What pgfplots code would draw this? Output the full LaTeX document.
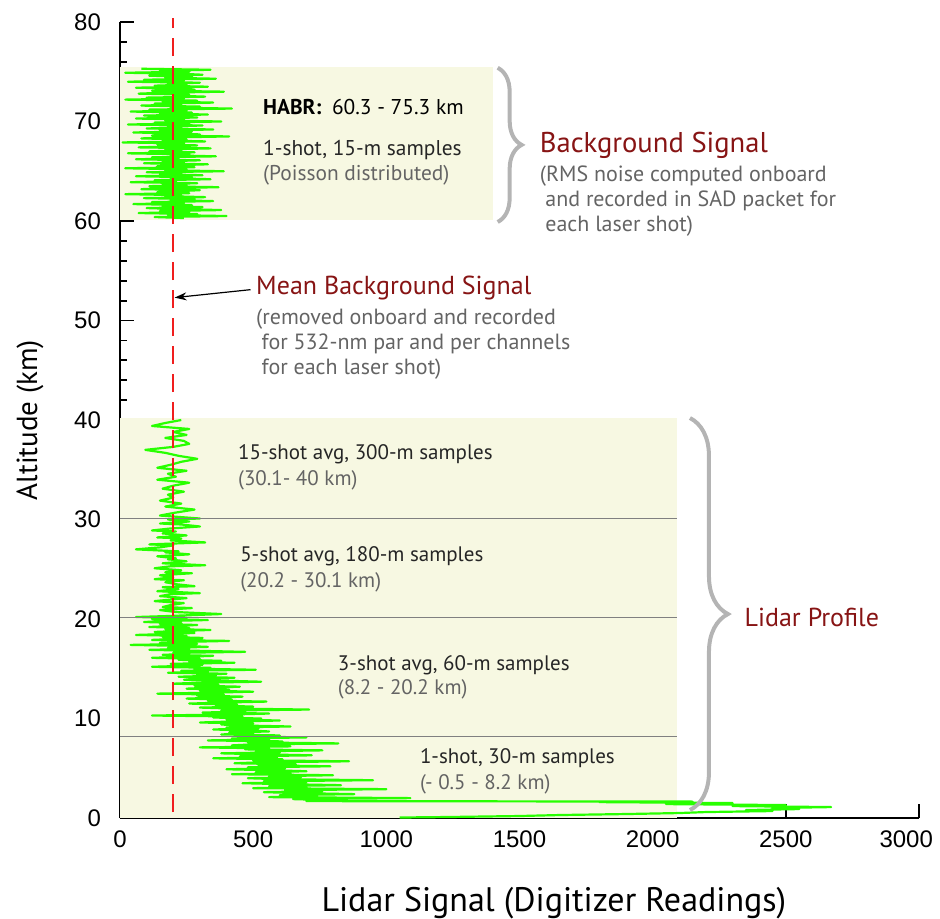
\documentclass[border=0pt]{standalone}
\usepackage{fontspec}
\usepackage{pgfplots}
\usepackage{pgfplotstable}
\pgfplotsset{compat=1.18}
\usetikzlibrary{decorations.pathreplacing,arrows.meta}
\setmainfont{PT Sans}
\newfontfamily\tickfont{Liberation Sans}
\newfontfamily\annfont{PT Sans}
\definecolor{lidargreen}{RGB}{40,255,0}
\definecolor{boxfill}{RGB}{247,248,226}
\definecolor{darkred}{RGB}{135,20,20}
\definecolor{txtgray}{RGB}{100,100,100}
\definecolor{bracegray}{RGB}{180,180,180}
\definecolor{meanred}{RGB}{240,30,30}

\pgfplotstableread{
x y
80 75.3
340 75.2
150 75.1
260 75.0
20 74.9
230 74.8
310 74.7
110 74.6
270 74.5
170 74.4
360 74.3
90 74.2
240 74.1
30 74.0
300 73.9
180 73.8
250 73.7
130 73.6
330 73.5
60 73.4
220 73.3
280 73.2
120 73.1
390 73.0
170 72.9
70 72.8
260 72.7
200 72.6
320 72.5
100 72.4
240 72.3
20 72.2
290 72.1
160 72.0
350 71.9
130 71.8
230 71.7
80 71.6
300 71.5
190 71.4
420 71.3
110 71.2
250 71.1
40 71.0
270 70.9
150 70.8
330 70.7
90 70.6
210 70.5
290 70.4
60 70.3
240 70.2
170 70.1
380 70.0
130 69.9
260 69.8
30 69.7
310 69.6
180 69.5
230 69.4
100 69.3
350 69.2
150 69.1
270 69.0
50 68.9
220 68.8
300 68.7
120 68.6
410 68.5
190 68.4
80 68.3
250 68.2
160 68.1
320 68.0
10 67.9
240 67.8
140 67.7
290 67.6
200 67.5
70 67.4
340 67.3
170 67.2
230 67.1
110 67.0
280 66.9
30 66.8
260 66.7
190 66.6
360 66.5
120 66.4
220 66.3
60 66.2
300 66.1
160 66.0
240 65.9
90 65.8
330 65.7
200 65.6
140 65.5
280 65.4
20 65.3
250 65.2
170 65.1
390 65.0
100 64.9
230 64.8
150 64.7
310 64.6
60 64.5
270 64.4
190 64.3
340 64.2
130 64.1
210 64.0
40 63.9
290 63.8
160 63.7
250 63.6
110 63.5
370 63.4
180 63.3
80 63.2
300 63.1
220 63.0
140 62.9
260 62.8
20 62.7
230 62.6
170 62.5
320 62.4
90 62.3
280 62.2
190 62.1
350 62.0
120 61.9
240 61.8
50 61.7
270 61.6
160 61.5
310 61.4
100 61.3
220 61.2
380 61.1
150 61.0
260 60.9
70 60.8
290 60.7
180 60.6
400 60.5
130 60.4
240 60.3
}\habr

\pgfplotstableread{
x y
230 40.0
170 39.7
120 39.4
260 39.1
200 38.8
250 38.5
170 38.2
240 37.9
260 37.6
200 37.3
95 37.0
170 36.7
220 36.4
290 36.1
230 35.8
190 35.5
140 35.2
250 34.9
180 34.6
210 34.3
140 34.0
260 33.7
200 33.4
160 33.1
240 32.8
180 32.5
200 32.2
150 31.9
230 31.6
170 31.3
280 31.0
210 30.7
150 30.4
300 30.1
180 30.0
260 29.8
150 29.6
230 29.5
300 29.3
190 29.1
120 28.9
210 28.8
160 28.6
250 28.4
140 28.2
230 28.1
190 27.9
320 27.7
110 27.5
200 27.4
150 27.2
60 27.0
220 26.8
170 26.7
260 26.5
140 26.3
210 26.1
180 26.0
250 25.8
160 25.6
320 25.4
190 25.3
130 25.1
230 24.9
170 24.7
270 24.6
150 24.4
200 24.2
130 24.0
240 23.9
170 23.7
210 23.5
280 23.3
160 23.2
220 23.0
140 22.8
300 22.6
190 22.5
150 22.3
250 22.1
170 21.9
130 21.8
240 21.6
190 21.4
160 21.2
270 21.1
150 20.9
210 20.7
380 20.5
180 20.3
60 20.2
250 20.1
120 20.0
330 19.9
180 19.8
90 19.7
230 19.6
150 19.5
290 19.4
200 19.3
110 19.2
260 19.1
170 19.0
340 18.9
220 18.8
130 18.7
280 18.6
190 18.5
60 18.4
250 18.3
160 18.2
310 18.1
210 18.0
120 17.9
410 17.8
240 17.7
150 17.6
290 17.5
40 17.4
230 17.3
330 17.2
180 17.1
260 17.0
110 16.9
300 16.8
470 16.7
200 16.6
260 16.5
160 16.4
350 16.3
240 16.2
120 16.1
300 16.0
220 15.9
380 15.8
260 15.7
430 15.6
190 15.5
310 15.4
250 15.3
120 15.2
340 15.1
280 15.0
510 14.9
230 14.8
330 14.7
180 14.6
400 14.5
290 14.4
360 14.3
220 14.2
430 14.1
310 14.0
240 13.9
390 13.8
530 13.7
300 13.6
200 13.5
370 13.4
280 13.3
450 13.2
340 13.1
250 13.0
410 12.9
300 12.8
500 12.7
350 12.6
140 12.5
390 12.4
290 12.3
460 12.2
370 12.1
250 12.0
420 11.9
330 11.8
550 11.7
380 11.6
260 11.5
440 11.4
360 11.3
500 11.2
300 11.1
420 11.0
710 10.9
380 10.8
470 10.7
310 10.6
560 10.5
410 10.4
120 10.3
460 10.2
350 10.1
530 10.0
400 9.9
600 9.8
420 9.7
300 9.6
500 9.5
380 9.4
450 9.3
640 9.2
400 9.1
520 9.0
350 8.9
480 8.8
560 8.7
410 8.6
500 8.5
380 8.4
600 8.3
460 8.2
700 8.1
420 8.0
560 7.9
330 7.8
610 7.7
480 7.6
820 7.5
500 7.4
420 7.3
640 7.2
300 7.1
560 7.0
470 6.9
760 6.8
510 6.7
600 6.6
380 6.5
540 6.4
720 6.3
450 6.2
590 6.1
350 6.0
610 5.9
500 5.8
860 5.7
530 5.6
430 5.5
660 5.4
520 5.3
790 5.2
480 5.1
620 5.0
400 4.9
570 4.8
700 4.7
510 4.6
640 4.5
420 4.4
800 4.3
560 4.2
680 4.1
480 4.0
600 3.9
950 3.8
540 3.7
700 3.6
460 3.5
620 3.4
830 3.3
560 3.2
700 3.1
500 3.0
1000 2.9
620 2.8
760 2.7
540 2.6
680 2.5
880 2.4
600 2.3
740 2.2
560 2.1
1090 2.0
650 1.9
780 1.8
700 1.7
2150 1.65
1800 1.6
2300 1.5
2050 1.4
2500 1.3
2300 1.2
2670 1.1
2450 1.0
2550 0.9
2350 0.8
2450 0.7
2200 0.6
2100 0.5
1900 0.4
1650 0.3
1500 0.2
1230 0.1
1050 0.05
}\lowprof

\begin{document}
\begin{tikzpicture}
\path[use as bounding box] (-60pt,-50pt) rectangle (410pt,409pt);
\begin{axis}[
  at={(0,0)}, anchor=south west,
  scale only axis, width=399.5pt, height=398pt,
  xmin=0, xmax=3000, ymin=0, ymax=80,
  axis x line*=bottom, axis y line*=left,
  axis line style={line width=1pt, -},
  xtick={0,500,...,2500}, ytick={0,10,...,80},
  extra x ticks={3000},
  extra x tick style={xticklabel style={anchor=north east, xshift=10.5pt}},
  minor y tick num=4,
  tick align=inside,
  major tick length=7pt, minor tick length=3.5pt,
  tick style={black, line width=0.9pt},
  tick label style={font=\tickfont\fontsize{12}{14}\selectfont},
  /pgf/number format/assume math mode=true,
  /pgf/number format/1000 sep={},
  yticklabel style={xshift=-6pt},
  xticklabel style={yshift=-3pt},
  xlabel={Lidar Signal (Digitizer Readings)},
  ylabel={Altitude (km)},
  every axis x label/.style={at={(axis description cs:0.543,0)}, anchor=center, yshift=-42.5pt, font=\annfont\fontsize{17}{19}\selectfont},
  every axis y label/.style={at={([xshift=-45pt]axis description cs:0,0.5)}, rotate=90, anchor=center, font=\annfont\fontsize{14.5}{16}\selectfont},
  clip=false,
]
% background boxes
\fill[boxfill] (axis cs:0,60.1) rectangle (axis cs:1400,75.5);
\fill[boxfill] (axis cs:0,0) rectangle (axis cs:2090,40.2);
% lidar profile
\addplot[lidargreen, line width=1.1pt, line join=round, no marks] table[x=x,y=y] {\habr};
\addplot[lidargreen, line width=1.1pt, line join=round, no marks] table[x=x,y=y] {\lowprof};
% section dividers
\draw[gray, line width=0.5pt] (axis cs:0,30.1) -- (axis cs:2090,30.1);
\draw[gray, line width=0.5pt] (axis cs:0,20.2) -- (axis cs:2090,20.2);
\draw[gray, line width=0.5pt] (axis cs:0,8.2) -- (axis cs:2090,8.2);
% mean background
\addplot[meanred, line width=1pt, dash pattern=on 9pt off 5pt, no marks] coordinates {(200,0.6) (200,80.4)};
% braces
\draw[bracegray, line width=2pt, decorate, decoration={brace, amplitude=12pt}] (axis cs:1418,75.4) -- (axis cs:1418,59.9);
\draw[bracegray, line width=2pt, decorate, decoration={brace, amplitude=19pt}] (axis cs:2140,40.2) -- (axis cs:2140,0.8);
% arrow
\draw[-{Stealth[length=6pt,width=4pt]}, line width=0.6pt] (axis cs:490,53.1) -- (axis cs:205,52.3);
% annotations
\node[anchor=west, text=darkred, font=\annfont\fontsize{13}{15}\selectfont, inner sep=0pt] at (axis cs:510,53.3) {Mean Background Signal};
\node[anchor=north west, text=txtgray, font=\annfont\fontsize{11}{12.5}\selectfont, align=left, inner sep=0pt] at (axis cs:510,51.2) {(removed onboard and recorded\\\hspace{0.25em}for 532-nm par and per channels\\\hspace{0.25em}for each laser shot)};
\node[anchor=west, text=darkred, font=\annfont\fontsize{14.3}{16}\selectfont, inner sep=0pt] at (axis cs:1575,67.6) {Background Signal};
\node[anchor=north west, text=txtgray, font=\annfont\fontsize{11}{12.5}\selectfont, align=left, inner sep=0pt] at (axis cs:1575,65.6) {(RMS noise computed onboard\\\hspace{0.25em}and recorded in SAD packet for\\\hspace{0.25em}each laser shot)};
\node[anchor=west, text=darkred, font=\annfont\fontsize{13}{15}\selectfont, inner sep=0pt] at (axis cs:2344,20.2) {Lidar Profile};
\node[anchor=west, text=black, font=\annfont\fontsize{10.7}{12.5}\selectfont, inner sep=0pt] at (axis cs:536,71.5) {\textbf{HABR:}\enspace 60.3 - 75.3 km};
\node[anchor=west, text=black!85, font=\annfont\fontsize{10.7}{12.5}\selectfont, inner sep=0pt] at (axis cs:536,67.1) {1-shot, 15-m samples};
\node[anchor=west, text=txtgray, font=\annfont\fontsize{10.7}{12.5}\selectfont, inner sep=0pt] at (axis cs:536,64.6) {(Poisson distributed)};
\node[anchor=west, text=black!85, font=\annfont\fontsize{10.5}{12.5}\selectfont, inner sep=0pt] at (axis cs:442,36.6) {15-shot avg, 300-m samples};
\node[anchor=west, text=txtgray, font=\annfont\fontsize{10.5}{12.5}\selectfont, inner sep=0pt] at (axis cs:442,33.9) {(30.1- 40 km)};
\node[anchor=west, text=black!85, font=\annfont\fontsize{10.5}{12.5}\selectfont, inner sep=0pt] at (axis cs:450,26.3) {5-shot avg, 180-m samples};
\node[anchor=west, text=txtgray, font=\annfont\fontsize{10.5}{12.5}\selectfont, inner sep=0pt] at (axis cs:450,23.7) {(20.2 - 30.1 km)};
\node[anchor=west, text=black!85, font=\annfont\fontsize{10.5}{12.5}\selectfont, inner sep=0pt] at (axis cs:817,15.4) {3-shot avg, 60-m samples};
\node[anchor=west, text=txtgray, font=\annfont\fontsize{10.5}{12.5}\selectfont, inner sep=0pt] at (axis cs:817,12.9) {(8.2 - 20.2 km)};
\node[anchor=west, text=black!85, font=\annfont\fontsize{10.5}{12.5}\selectfont, inner sep=0pt] at (axis cs:1125,6.0) {1-shot, 30-m samples};
\node[anchor=west, text=txtgray, font=\annfont\fontsize{10.5}{12.5}\selectfont, inner sep=0pt] at (axis cs:1125,3.4) {(- 0.5 - 8.2 km)};
\end{axis}
\end{tikzpicture}
\end{document}
